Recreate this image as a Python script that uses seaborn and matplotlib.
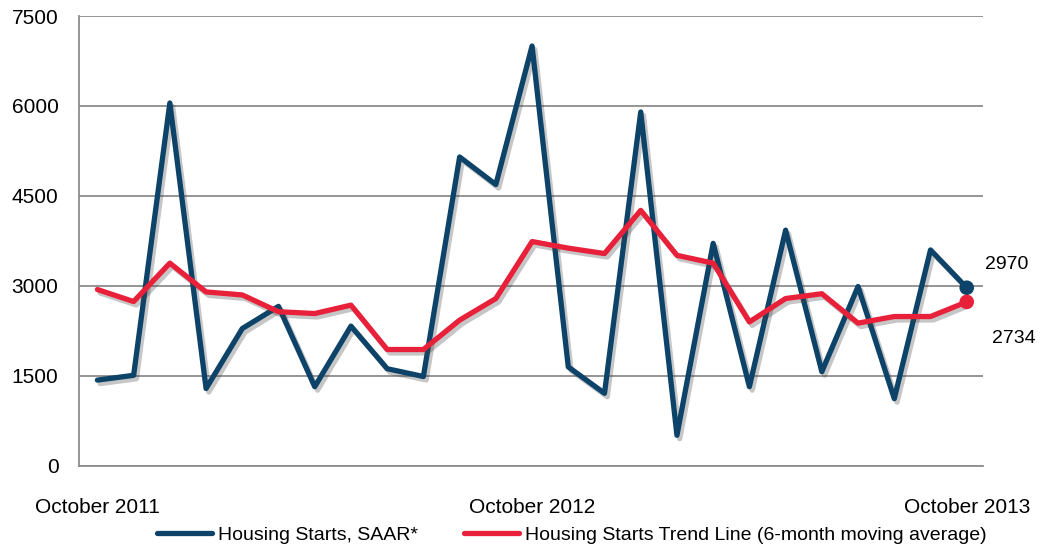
import matplotlib
matplotlib.use("Agg")
import matplotlib.patheffects as pe
import matplotlib.pyplot as plt
import numpy as np
import pandas as pd
import seaborn as sns

# ── Data (Oct 2011 .. Oct 2013, monthly) ─────────────────────────────────────
months = pd.date_range("2011-10-01", "2013-10-01", freq="MS")
starts = [1430, 1510, 6050, 1290, 2290, 2660, 1320, 2330, 1620, 1490,
          5150, 4690, 7000, 1650, 1210, 5900, 510, 3710, 1320, 3930,
          1570, 2990, 1120, 3600, 2970]
trend = [2940, 2740, 3380, 2900, 2850, 2570, 2540, 2680, 1940, 1940,
         2430, 2790, 3740, 3630, 3540, 4260, 3510, 3380, 2400, 2790,
         2870, 2380, 2490, 2490, 2734]
tick_idx = [0, 12, 24]
tick_labels = ["October 2011", "October 2012", "October 2013"]

BLUE = "#0D4368"
RED = "#E8203A"
GRID = "#8C8C8C"

sns.set_style("white")
plt.rcParams["font.family"] = ["Liberation Sans", "DejaVu Sans"]
plt.rcParams["text.color"] = "black"
plt.rcParams["xtick.labelcolor"] = "black"
plt.rcParams["ytick.labelcolor"] = "black"

df = pd.DataFrame({"i": np.arange(len(months)), "starts": starts, "trend": trend})

fig = plt.figure(figsize=(10.42, 5.52), dpi=100)
ax = fig.add_axes([0.0761, 0.156, 0.8673, 0.815])

shadow = [pe.SimpleLineShadow(offset=(2, -2.5), alpha=0.3, shadow_color="#444444"),
          pe.Normal()]

sns.lineplot(data=df, x="i", y="starts", ax=ax, color=BLUE, lw=3.8,
             label="Housing Starts, SAAR*", path_effects=shadow, zorder=3)
sns.lineplot(data=df, x="i", y="trend", ax=ax, color=RED, lw=3.8,
             label="Housing Starts Trend Line (6-month moving average)",
             path_effects=shadow, zorder=4)

last = df.iloc[[-1]]
sns.scatterplot(data=last, x="i", y="starts", ax=ax, color=BLUE, s=110,
                edgecolor="none", zorder=5, legend=False)
sns.scatterplot(data=last, x="i", y="trend", ax=ax, color=RED, s=110,
                edgecolor="none", zorder=6, legend=False)

ax.annotate(f"{starts[-1]}", (df["i"].iloc[-1], starts[-1]), xytext=(13, 17),
            textcoords="offset points", fontsize=14, va="center", ha="left")
ax.annotate(f"{trend[-1]}", (df["i"].iloc[-1], trend[-1]), xytext=(18, -26),
            textcoords="offset points", fontsize=14, va="center", ha="left")

ax.set_xlim(-0.5, 24.45)
ax.set_ylim(0, 7500)
ax.set_yticks([0, 1500, 3000, 4500, 6000, 7500])
ax.set_xticks(tick_idx)
ax.set_xticklabels(tick_labels)
ax.set_xlabel("")
ax.set_ylabel("")
ax.tick_params(axis="y", length=5, width=1.2, color=GRID, labelsize=15, pad=10)
ax.tick_params(axis="x", length=0, labelsize=15, pad=23)
ax.yaxis.grid(True, color=GRID, lw=1.3)
ax.set_axisbelow(True)
for s in ["top", "right"]:
    ax.spines[s].set_visible(False)
for s in ["left", "bottom"]:
    ax.spines[s].set_color(GRID)
    ax.spines[s].set_linewidth(1.3)

leg = ax.legend(loc="upper center", bbox_to_anchor=(0.545, -0.095), ncol=2,
                frameon=False, fontsize=14, handlelength=2.8, columnspacing=2.4,
                handletextpad=0.3)
for h in leg.legend_handles:
    h.set_path_effects([])

fig.savefig("out.png", dpi=100)
